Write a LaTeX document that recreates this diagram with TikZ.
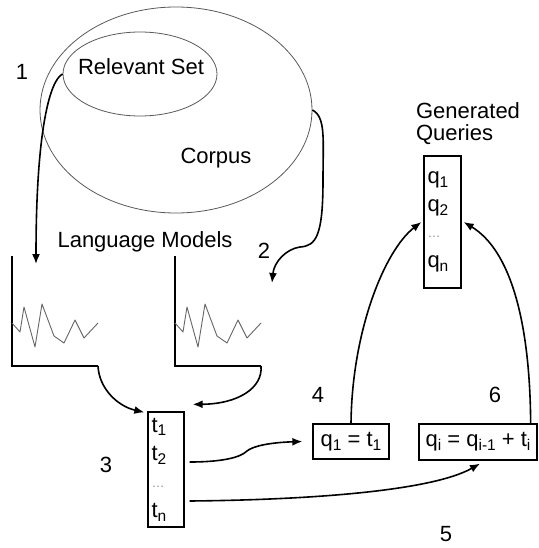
\documentclass[tikz,border=0pt]{standalone}
\usepackage{fontspec}
\setmainfont{Liberation Sans}
\usetikzlibrary{shapes.geometric,arrows.meta}

% lowered, smaller index for t_1, q_i ...
\newcommand\lo[1]{\raisebox{-0.32ex}{\fontsize{15.5}{15.5}\selectfont #1}}
% small grey ellipsis inside the lists
\newcommand\gdots{\textcolor{black!45}{\fontsize{13}{13}\selectfont\ldots}}

\begin{document}
\begin{tikzpicture}[x=1pt,y=-1pt,
  lbl/.style={font=\fontsize{22}{26}\selectfont, inner sep=0pt},
  setshape/.style={draw=black!65, line width=0.8pt, ellipse, inner sep=0pt},
  listbox/.style={draw, line width=1.3pt, font=\fontsize{22}{28.5}\selectfont,
    align=left, inner sep=0pt},
  eqbox/.style={draw, line width=1.3pt, font=\fontsize{22}{26}\selectfont,
    inner sep=0pt},
  flow/.style={line width=1.6pt, -{Latex[length=10pt,width=8pt]}},
  axis/.style={line width=1.7pt},
  spikes/.style={draw=black!60, line width=0.9pt, line join=round}]

\useasboundingbox (0,0) rectangle (538,548);

% ---- document collection ----
\node[setshape, minimum width=272, minimum height=206] (corpus) at (176,110) {};
\node[setshape, minimum width=154, minimum height=84] (rel) at (140,74) {};
\node[lbl] (reltext) at (141,67) {Relevant Set};
\node[lbl] (corptext) at (216,158) {Corpus};

% ---- language models ----
\node[lbl] (lmtext) at (145,242) {Language Models};
\coordinate (lmAtop) at (12,256);
\coordinate (lmAcorner) at (12,366);
\coordinate (lmAend) at (98,366);
\coordinate (lmBtop) at (175,256);
\coordinate (lmBcorner) at (175,366);
\coordinate (lmBend) at (261,366);
\draw[axis] (lmAtop) -- (lmAcorner) -- (lmAend);
\draw[axis] (lmBtop) -- (lmBcorner) -- (lmBend);
\foreach \dx in {0,163}{
  \draw[spikes, xshift=\dx pt] (12,323) -- (20,332) -- (24,307) -- (35,347)
    -- (42,304) -- (54,336) -- (64,343) -- (75,320) -- (84,338) -- (98,323);
}
\coordinate (lmAin) at (36,264);
\coordinate (lmBin) at (272,283);

% ---- term list ----
\node[listbox, minimum width=36, minimum height=115, text width=29]
  (terms) at (166,469.5) {t\lo{1}\\t\lo{2}\\[-2pt]\gdots\\[2pt]t\lo{n}};

% ---- query construction ----
\node[eqbox, minimum width=76, minimum height=35] (qfirst) at (351,441.5)
  {q\lo{1} = t\lo{1}};
\node[eqbox, minimum width=118, minimum height=36] (qnext) at (478,442)
  {q\lo{i} = q\lo{i-1} + t\lo{i}};

% ---- generated queries ----
\node[lbl, align=left, font=\fontsize{22}{22}\selectfont] (gqtext) at (468,124)
  {Generated\\Queries};
\node[listbox, minimum width=37, minimum height=132, text width=30,
  font=\fontsize{22}{28}\selectfont] (queries) at (442.5,222)
  {q\lo{1}\\q\lo{2}\\[-2pt]\gdots\\[2pt]q\lo{n}};

% ---- step numbers ----
\node[lbl] (n1) at (22,72) {1};
\node[lbl] (n2) at (264,251) {2};
\node[lbl] (n3) at (106,465) {3};
\node[lbl] (n4) at (318,395) {4};
\node[lbl] (n5) at (446,534) {5};
\node[lbl] (n6) at (495,395) {6};

% ---- connectors ----
\draw[flow] (rel.west) .. controls (50,80) and (36,130) .. (lmAin);
\draw[flow] (corpus.east) .. controls (326,117) and (323,140) .. (323,180)
  .. controls (323,236) and (316,246) .. (300,247)
  .. controls (286,249) and (274,262) .. (lmBin);
\draw[flow] (lmAend) .. controls (99,388) and (117,406) .. ([xshift=-3pt,yshift=-1pt]terms.north west);
\draw[flow] (lmBend) .. controls (263,388) and (238,404) .. ([xshift=8pt,yshift=7pt]terms.north east);
\draw[flow] ([xshift=5pt,yshift=7.5pt]terms.east) .. controls (220,462) and (240,458) .. (247,451)
  .. controls (253,446) and (270,442.5) .. ([xshift=-10pt]qfirst.west);
\draw[flow] ([xshift=5pt,yshift=-31.5pt]terms.east) .. controls (300,500) and (430,492) .. ([xshift=2pt,yshift=-3pt]qnext.south);
\draw[flow] (qfirst.north) .. controls (352,330) and (385,250) .. ([xshift=-2pt]queries.west);
\draw[flow] ([xshift=-7pt]qnext.north east) .. controls (530,320) and (510,250) .. ([xshift=2pt]queries.east);

\end{tikzpicture}
\end{document}
